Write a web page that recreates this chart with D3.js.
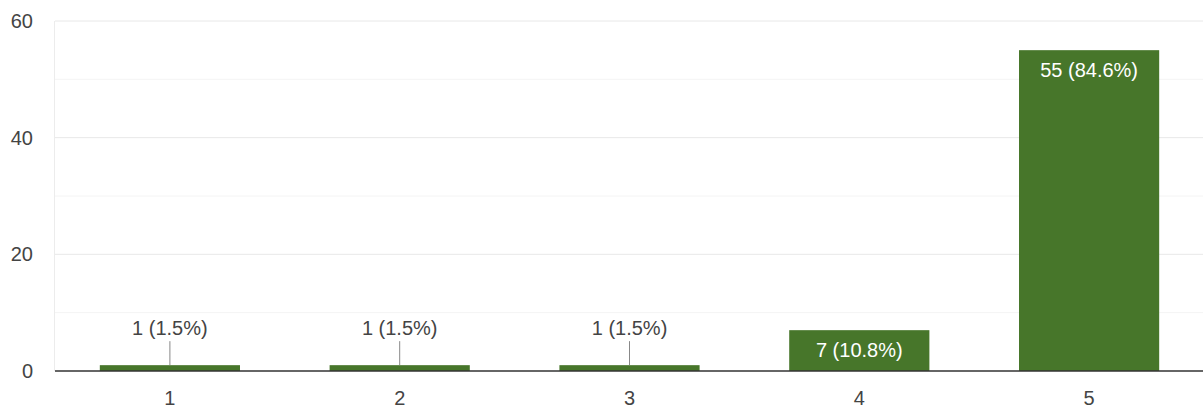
<!DOCTYPE html>
<html>
<head>
<meta charset="utf-8">
<script src="https://cdn.jsdelivr.net/npm/d3@7"></script>
<style>
  body { margin: 0; background: #fff; }
  text { font-family: "Liberation Sans", Arial, sans-serif; }
</style>
</head>
<body>
<div id="chart"></div>
<script>
// chart data
const categories = ["1", "2", "3", "4", "5"];
const counts = [1, 1, 1, 7, 55];
const percents = ["1.5%", "1.5%", "1.5%", "10.8%", "84.6%"];
const yTicks = [0, 20, 40, 60];
const yMinorTicks = [10, 30, 50];

const width = 1203, height = 410;
const margin = { top: 21, right: -1, bottom: 39, left: 55 };

const svg = d3.select("#chart").append("svg")
    .attr("width", width)
    .attr("height", height);

const x = d3.scaleBand()
    .domain(categories)
    .range([margin.left, width - margin.right])
    .paddingInner(0.39)
    .paddingOuter(0.195);

const y = d3.scaleLinear()
    .domain([0, 60])
    .range([height - margin.bottom, margin.top]);

// minor gridlines
svg.append("g").selectAll("line")
    .data(yMinorTicks)
    .enter().append("line")
    .attr("x1", margin.left).attr("x2", width)
    .attr("y1", d => y(d)).attr("y2", d => y(d))
    .attr("stroke", "#f4f4f4");

// major gridlines
svg.append("g").selectAll("line")
    .data(yTicks.filter(d => d > 0))
    .enter().append("line")
    .attr("x1", margin.left).attr("x2", width)
    .attr("y1", d => y(d)).attr("y2", d => y(d))
    .attr("stroke", "#e8e8e8");

// left edge of plot
svg.append("line")
    .attr("x1", margin.left - 0.5).attr("x2", margin.left - 0.5)
    .attr("y1", y(60)).attr("y2", y(0))
    .attr("stroke", "#ececec");

// y axis labels
svg.append("g").selectAll("text")
    .data(yTicks)
    .enter().append("text")
    .attr("x", 33)
    .attr("y", d => y(d))
    .attr("dy", "0.35em")
    .attr("text-anchor", "end")
    .attr("font-size", "20px")
    .attr("fill", "#444")
    .text(d => d);

// bars
const color = "#47762a";
const bars = svg.append("g").selectAll("g")
    .data(categories.map((c, i) => ({ cat: c, value: counts[i], pct: percents[i] })))
    .enter().append("g");

bars.append("rect")
    .attr("x", d => x(d.cat))
    .attr("y", d => y(d.value))
    .attr("width", x.bandwidth())
    .attr("height", d => y(0) - y(d.value))
    .attr("fill", color);

// labels: inside the bar if it is tall enough, else above with a leader line
bars.each(function (d) {
    const g = d3.select(this);
    const cx = x(d.cat) + x.bandwidth() / 2;
    const h = y(0) - y(d.value);
    const label = `${d.value} (${d.pct})`;
    if (h > 30) {
        g.append("text")
            .attr("x", cx)
            .attr("y", y(d.value) + 20)
            .attr("dy", "0.35em")
            .attr("text-anchor", "middle")
            .attr("font-size", "20px")
            .attr("fill", "#fff")
            .text(label);
    } else {
        g.append("line")
            .attr("x1", cx).attr("x2", cx)
            .attr("y1", y(d.value)).attr("y2", y(d.value) - 24)
            .attr("stroke", "#888");
        g.append("text")
            .attr("x", cx)
            .attr("y", y(d.value) - 37)
            .attr("dy", "0.35em")
            .attr("text-anchor", "middle")
            .attr("font-size", "20px")
            .attr("fill", "#444")
            .text(label);
    }
});

// baseline
svg.append("line")
    .attr("x1", margin.left).attr("x2", width)
    .attr("y1", y(0)).attr("y2", y(0))
    .attr("stroke", "#333")
    .attr("stroke-width", 1.5);

// x axis labels
svg.append("g").selectAll("text")
    .data(categories)
    .enter().append("text")
    .attr("x", d => x(d) + x.bandwidth() / 2)
    .attr("y", y(0) + 27)
    .attr("dy", "0.35em")
    .attr("text-anchor", "middle")
    .attr("font-size", "20px")
    .attr("fill", "#444")
    .text(d => d);
</script>
</body>
</html>
